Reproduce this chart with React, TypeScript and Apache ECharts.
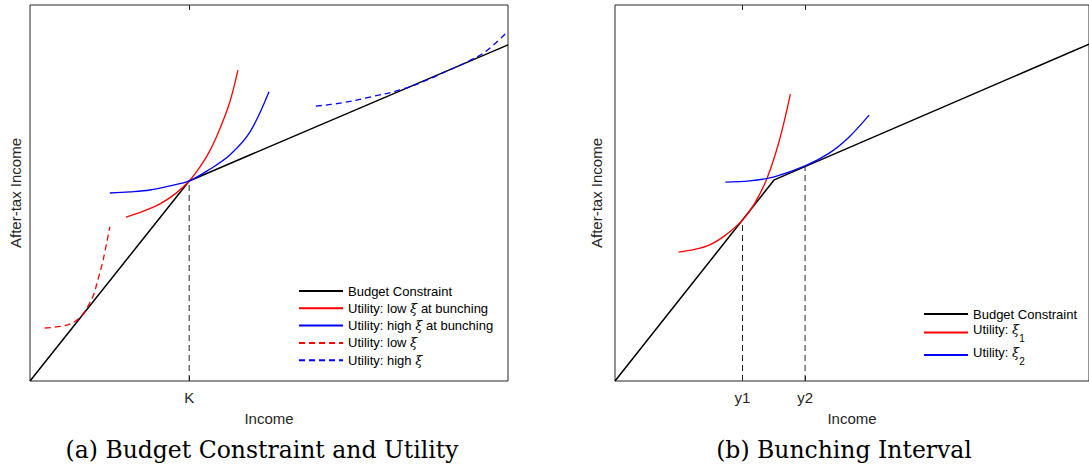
import React, { useEffect, useRef } from "react";
import * as echarts from "echarts";

// ---------- data (arbitrary units, 0..10 on both axes) ----------
const X_MIN = 0;
const X_MAX = 10;
const Y_MIN = 0;
const Y_MAX = 10;

// Panel (a)
const K = 3.33;
const budgetA_x = [0, 3.33, 10];
const budgetA_y = [0, 5.32, 8.94];
const lowBunchA_x = [2.01, 2.36, 2.72, 3.05, 3.33, 3.56, 3.77, 3.97, 4.18, 4.35];
const lowBunchA_y = [4.36, 4.51, 4.71, 4.99, 5.32, 5.7, 6.14, 6.7, 7.42, 8.27];
const highBunchA_x = [1.67, 2.09, 2.51, 2.93, 3.33, 3.77, 4.18, 4.6, 5.0];
const highBunchA_y = [5.0, 5.03, 5.08, 5.19, 5.32, 5.64, 6.01, 6.62, 7.69];
const lowA_x = [0.31, 0.63, 0.88, 1.05, 1.19, 1.32, 1.42, 1.53, 1.67];
const lowA_y = [1.41, 1.45, 1.54, 1.7, 1.94, 2.26, 2.69, 3.22, 4.1];
const highA_x = [5.98, 6.49, 7.11, 7.74, 8.26, 8.68, 9.1, 9.52, 9.98];
const highA_y = [7.31, 7.39, 7.55, 7.74, 7.98, 8.22, 8.46, 8.75, 9.28];
const tickLabelsA = ["K"];
const tickValuesA = [K];

// Panel (b)
const Y1 = 2.69;
const Y2 = 4.01;
const budgetB_x = [0, 3.36, 10];
const budgetB_y = [0, 5.35, 8.96];
const xi1B_x = [1.34, 1.68, 2.0, 2.31, 2.69, 2.94, 3.21, 3.47, 3.7];
const xi1B_y = [3.43, 3.5, 3.62, 3.86, 4.28, 4.71, 5.4, 6.41, 7.63];
const xi2B_x = [2.33, 2.84, 3.36, 4.01, 4.52, 4.94, 5.36];
const xi2B_y = [5.29, 5.32, 5.43, 5.72, 6.06, 6.49, 7.07];
const tickLabelsB = ["y1", "y2"];
const tickValuesB = [Y1, Y2];

const legendA = [
  "Budget Constraint",
  "Utility: low ξ at bunching",
  "Utility: high ξ at bunching",
  "Utility: low ξ",
  "Utility: high ξ",
];
const legendB = ["Budget Constraint", "Utility: ξ1", "Utility: ξ2"];

// ---------- helpers ----------
const zip = (xs: number[], ys: number[]) => xs.map((x, i) => [x, ys[i]]);
const interp = (xs: number[], ys: number[], x: number) => {
  for (let i = 0; i < xs.length - 1; i++) {
    if (x >= xs[i] && x <= xs[i + 1]) {
      const t = (x - xs[i]) / (xs[i + 1] - xs[i]);
      return ys[i] + t * (ys[i + 1] - ys[i]);
    }
  }
  return ys[ys.length - 1];
};

const SANS = "'Liberation Sans', Arial, Helvetica, sans-serif";
const SERIF = "'DejaVu Serif', serif";
const AXIS_COLOR = "#262626";

function xAxes(gridIndex: number, values: number[], labels: string[], nameGap: number) {
  const fmt = (v: number) => {
    let best = 0;
    for (let i = 1; i < values.length; i++) {
      if (Math.abs(values[i] - v) < Math.abs(values[best] - v)) best = i;
    }
    return labels[best];
  };
  const tick = {
    show: true,
    inside: true,
    length: 5,
    customValues: values,
    lineStyle: { color: AXIS_COLOR, width: 1 },
  };
  return [
    {
      type: "value",
      gridIndex,
      min: X_MIN,
      max: X_MAX,
      position: "bottom",
      axisLine: { show: false },
      splitLine: { show: false },
      axisTick: tick,
      axisLabel: {
        customValues: values,
        formatter: fmt,
        margin: 9,
        fontSize: 15,
        color: AXIS_COLOR,
        fontFamily: SANS,
      },
      name: "Income",
      nameLocation: "middle",
      nameGap,
      nameTextStyle: { fontSize: 15, color: AXIS_COLOR, fontFamily: SANS },
    },
    {
      type: "value",
      gridIndex,
      min: X_MIN,
      max: X_MAX,
      position: "top",
      axisLine: { show: false },
      splitLine: { show: false },
      axisTick: tick,
      axisLabel: { show: false },
    },
  ];
}

function yAxis(gridIndex: number, nameGap: number) {
  return {
    type: "value",
    gridIndex,
    min: Y_MIN,
    max: Y_MAX,
    axisLine: { show: false },
    axisTick: { show: false },
    axisLabel: { show: false },
    splitLine: { show: false },
    name: "After-tax Income",
    nameLocation: "middle",
    nameRotate: 90,
    nameGap,
    nameTextStyle: { fontSize: 15, color: AXIS_COLOR, fontFamily: SANS },
  };
}

function lineSeries(
  name: string,
  xAxisIndex: number,
  yAxisIndex: number,
  data: number[][],
  color: string,
  type: any,
  width: number,
  smooth: boolean
) {
  return {
    name,
    type: "line",
    xAxisIndex,
    yAxisIndex,
    data,
    symbol: "none",
    smooth: smooth ? 0.35 : false,
    lineStyle: { color, width, type },
    itemStyle: { color },
    emphasis: { disabled: true },
    silent: true,
  };
}

const DASH = [6, 4];

export default function App() {
  const ref = useRef<HTMLDivElement>(null);

  useEffect(() => {
    if (!ref.current) return;
    const chart = echarts.init(ref.current, null, { renderer: "svg" });

    const option: any = {
      animation: false,
      backgroundColor: "#ffffff",
      grid: [
        {
          left: 30,
          top: 5,
          width: 478,
          height: 376,
          show: true,
          borderColor: AXIS_COLOR,
          borderWidth: 1,
          backgroundColor: "transparent",
        },
        {
          left: 615,
          top: 5,
          width: 476,
          height: 376,
          show: true,
          borderColor: AXIS_COLOR,
          borderWidth: 1,
          backgroundColor: "transparent",
        },
      ],
      xAxis: [...xAxes(0, tickValuesA, tickLabelsA, 30), ...xAxes(1, tickValuesB, tickLabelsB, 30)],
      yAxis: [yAxis(0, 7), yAxis(1, 11)],
      legend: [
        {
          orient: "vertical",
          left: 298,
          top: 284,
          padding: 0,
          itemWidth: 44,
          itemHeight: 14,
          itemGap: 3.3,
          selectedMode: false,
          data: legendA,
          itemStyle: { opacity: 0 },
          formatter: (n: string) => n.replace("ξ", "{x|ξ}"),
          textStyle: {
            fontSize: 13,
            lineHeight: 14,
            color: "#000",
            fontFamily: SANS,
            rich: {
              x: { fontStyle: "italic", fontFamily: SERIF, fontSize: 13, lineHeight: 14 },
            },
          },
        },
        {
          orient: "vertical",
          left: 923,
          top: 307,
          padding: 0,
          itemWidth: 44,
          itemHeight: 14,
          itemGap: 0.5,
          selectedMode: false,
          data: legendB,
          itemStyle: { opacity: 0 },
          formatter: (n: string) =>
            n === "Budget Constraint" ? n : "{n|Utility: }{x|ξ}{s|" + n.slice(-1) + "}",
          textStyle: {
            fontSize: 13,
            lineHeight: 14,
            color: "#000",
            fontFamily: SANS,
            rich: {
              n: { fontSize: 13, lineHeight: 14, padding: [0, 0, 6, 0] },
              x: {
                fontStyle: "italic",
                fontFamily: SERIF,
                fontSize: 13,
                lineHeight: 14,
                padding: [0, 0, 6, 0],
              },
              s: { fontSize: 10, lineHeight: 12, padding: [12, 0, 0, 0] },
            },
          },
        },
      ],
      series: [
        // panel (a)
        lineSeries("K guide", 0, 0, [[K, Y_MIN], [K, interp(budgetA_x, budgetA_y, K)]], AXIS_COLOR, DASH, 1, false),
        lineSeries("Budget Constraint", 0, 0, zip(budgetA_x, budgetA_y), "#000000", "solid", 1.5, false),
        lineSeries("Utility: low ξ at bunching", 0, 0, zip(lowBunchA_x, lowBunchA_y), "#ff0000", "solid", 1.3, true),
        lineSeries("Utility: high ξ at bunching", 0, 0, zip(highBunchA_x, highBunchA_y), "#0000ff", "solid", 1.3, true),
        lineSeries("Utility: low ξ", 0, 0, zip(lowA_x, lowA_y), "#ff0000", DASH, 1.3, true),
        lineSeries("Utility: high ξ", 0, 0, zip(highA_x, highA_y), "#0000ff", DASH, 1.3, true),
        // panel (b)
        lineSeries("y1 guide", 2, 1, [[Y1, Y_MIN], [Y1, interp(budgetB_x, budgetB_y, Y1)]], AXIS_COLOR, DASH, 1, false),
        lineSeries("y2 guide", 2, 1, [[Y2, Y_MIN], [Y2, interp(budgetB_x, budgetB_y, Y2)]], AXIS_COLOR, DASH, 1, false),
        lineSeries("Budget Constraint", 2, 1, zip(budgetB_x, budgetB_y), "#000000", "solid", 1.5, false),
        lineSeries("Utility: ξ1", 2, 1, zip(xi1B_x, xi1B_y), "#ff0000", "solid", 1.3, true),
        lineSeries("Utility: ξ2", 2, 1, zip(xi2B_x, xi2B_y), "#0000ff", "solid", 1.3, true),
      ],
      graphic: [
        {
          type: "text",
          x: 262,
          y: 450,
          style: {
            text: "(a) Budget Constraint and Utility",
            fontFamily: SERIF,
            fontSize: 23.5,
            fill: "#000",
            align: "center",
            verticalAlign: "middle",
          },
        },
        {
          type: "text",
          x: 844,
          y: 450,
          style: {
            text: "(b) Bunching Interval",
            fontFamily: SERIF,
            fontSize: 23.5,
            fill: "#000",
            align: "center",
            verticalAlign: "middle",
          },
        },
      ],
    };

    chart.setOption(option);
    return () => chart.dispose();
  }, []);

  return (
    <div
      ref={ref}
      style={{ position: "absolute", left: 0, top: 0, width: 1089, height: 466 }}
    />
  );
}
